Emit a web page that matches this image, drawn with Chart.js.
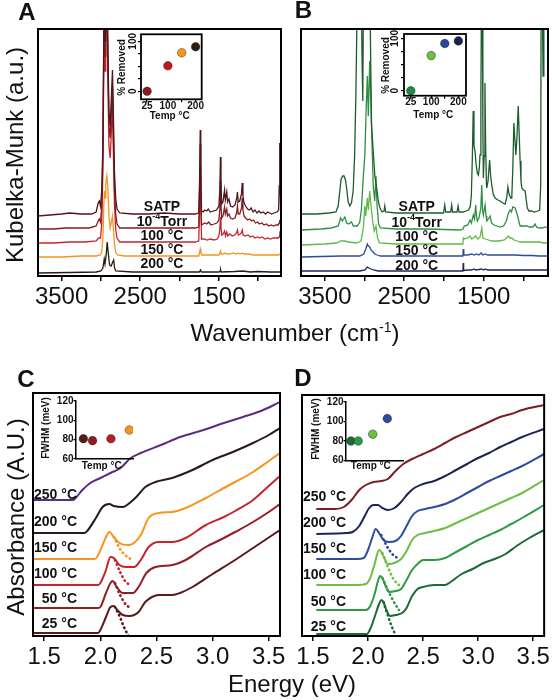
<!DOCTYPE html>
<html>
<head>
<meta charset="utf-8">
<script src="https://cdn.jsdelivr.net/npm/chart.js@4.4.0/dist/chart.umd.min.js"></script>
<style>
body{margin:0;background:#fff;}
#page{position:relative;width:552px;height:700px;overflow:hidden;background:#fff;font-family:'Liberation Sans',Arial,sans-serif;color:#111;}
canvas{position:absolute;}
.ttl{position:absolute;font-size:24px;line-height:24px;white-space:nowrap;}
.ttl sup{font-size:14px;line-height:0;position:relative;top:-9px;vertical-align:baseline;}
.rot{transform:translate(-50%,-50%) rotate(-90deg);}
</style>
</head>
<body>
<div id="page">
<canvas id="cA" width="290" height="320" style="left:0;top:0"></canvas>
<canvas id="cB" width="282" height="320" style="left:270px;top:0"></canvas>
<canvas id="cC" width="290" height="370" style="left:0;top:330px"></canvas>
<canvas id="cD" width="282" height="370" style="left:270px;top:330px"></canvas>
<canvas id="iA" width="110" height="110" style="left:100px;top:25px"></canvas>
<canvas id="iB" width="115" height="110" style="left:360px;top:25px"></canvas>
<canvas id="iC" width="110" height="85" style="left:30px;top:390px"></canvas>
<canvas id="iD" width="110" height="85" style="left:300px;top:390px"></canvas>
<div class="ttl rot" style="left:15px;top:155px">Kubelka-Munk (a.u.)</div>
<div class="ttl rot" style="left:16px;top:517px">Absorbance (A.U.)</div>
<div class="ttl" style="left:0;width:590px;text-align:center;top:321px">Wavenumber (cm<sup>-1</sup>)</div>
<div class="ttl" style="left:0;width:584px;text-align:center;top:672px">Energy (eV)</div>
</div>
<script>
// tick values / labels
const irTickVals = [1000, 1500, 2000, 2500, 3000, 3500];
const irTickText = ['', '1500', '', '2500', '', '3500'];
const eTickVals = [1.5, 2.0, 2.5, 3.0, 3.5];
const eTickText = ['1.5', '2.0', '2.5', '3.0', '3.5'];

// series labels
const irLabels = ['SATP', ['10', '-4', 'Torr'], '100 °C', '150 °C', '200 °C'];
const eLabels = ['250 °C', '200 °C', '150 °C', '100 °C', '50 °C', '25 °C'];

// panel A spectra  [wavenumber, KM + offset]
const aSatp = [[3800,60],[3650,61],[3500,62],[3400,63],[3250,62],[3120,62],[3060,64],[3035,73],[3020,75],[3005,70],[2990,85],[2975,130],[2963,250],[2955,300],[2947,235],[2938,270],[2925,300],[2912,235],[2898,165],[2882,150],[2864,185],[2853,206],[2842,165],[2828,105],[2812,78],[2795,67],[2760,63],[2600,62],[2400,62],[2200,63],[2000,62],[1800,62],[1756,63],[1744,100],[1737,146],[1730,100],[1720,65],[1700,64],[1680,66],[1655,65],[1635,67],[1610,64],[1570,65],[1530,66],[1500,70],[1488,85],[1480,119],[1473,88],[1464,72],[1448,74],[1428,86],[1418,76],[1400,84],[1390,74],[1372,77],[1352,70],[1325,69],[1295,71],[1272,78],[1264,84],[1254,74],[1235,75],[1212,82],[1203,93],[1194,80],[1180,73],[1160,70],[1135,67],[1110,66],[1090,68],[1065,64],[1040,66],[1015,63],[990,65],[965,63],[935,64],[905,62],[880,64],[855,63],[830,62],[800,63],[760,64],[740,66],[733,90],[726,133],[720,90],[714,66],[710,64]];
const aTorr = [[3800,47],[3600,47],[3450,48],[3300,48],[3150,48],[3060,50],[3035,55],[3020,57],[3005,54],[2990,70],[2975,120],[2963,235],[2955,300],[2947,220],[2938,255],[2925,300],[2912,220],[2898,150],[2882,138],[2864,170],[2853,190],[2842,145],[2828,88],[2812,62],[2795,52],[2760,48],[2500,48],[2200,48],[2000,48],[1800,48],[1756,49],[1744,90],[1737,132],[1730,90],[1720,51],[1700,52],[1680,53],[1655,52],[1630,54],[1600,51],[1560,52],[1525,53],[1500,56],[1488,66],[1480,95],[1473,70],[1464,58],[1448,60],[1428,69],[1418,62],[1400,67],[1390,60],[1372,62],[1352,58],[1325,57],[1295,58],[1272,64],[1264,70],[1254,62],[1235,62],[1212,68],[1203,78],[1194,66],[1180,60],[1160,58],[1135,56],[1110,57],[1085,55],[1060,56],[1035,53],[1010,54],[985,52],[955,53],[925,51],[895,52],[865,50],[835,51],[805,50],[775,51],[745,51],[733,53],[726,56],[720,53],[710,51]];
const a100 = [[3800,33],[3600,33],[3400,34],[3200,34],[3060,35],[3030,38],[3005,38],[2990,52],[2975,105],[2963,215],[2955,300],[2947,205],[2938,240],[2925,300],[2912,200],[2898,130],[2882,118],[2864,150],[2853,170],[2842,125],[2828,72],[2812,47],[2795,38],[2760,34],[2400,34],[2000,34],[1800,34],[1756,35],[1744,70],[1737,110],[1730,70],[1720,37],[1690,37],[1650,36],[1610,37],[1560,36],[1520,37],[1500,40],[1488,47],[1480,59],[1473,49],[1464,41],[1445,42],[1428,45],[1415,40],[1400,44],[1385,40],[1360,42],[1330,40],[1300,41],[1275,43],[1264,46],[1252,41],[1225,42],[1210,44],[1202,46],[1192,41],[1165,40],[1130,41],[1100,39],[1070,40],[1040,38],[1010,39],[980,38],[950,39],[915,37],[880,38],[845,37],[810,38],[775,38],[745,38],[733,39],[726,41],[720,39],[710,38]];
const a150 = [[3800,19],[3500,19],[3250,20],[3060,20],[3010,21],[2990,24],[2975,38],[2963,70],[2955,85],[2947,78],[2938,92],[2925,100],[2912,90],[2898,60],[2882,48],[2864,55],[2853,60],[2842,48],[2828,32],[2812,24],[2790,21],[2700,20],[2200,20],[1800,20],[1756,20],[1746,23],[1737,27],[1728,23],[1715,21],[1650,21],[1560,21],[1500,21],[1488,23],[1480,25],[1472,22],[1440,22],[1425,23],[1395,22],[1360,22],[1320,23],[1280,22],[1260,23],[1230,22],[1205,23],[1180,22],[1120,22],[1060,21],[1000,21],[920,21],[850,21],[780,21],[740,21],[726,22],[710,21]];
const a200 = [[3800,3],[3400,3.5],[3060,4],[3000,5],[2975,8],[2958,17],[2948,12],[2932,22],[2920,34],[2908,24],[2890,11],[2870,10],[2850,14],[2838,16],[2826,8],[2810,5],[2600,4],[2000,4],[1750,4],[1740,5],[1735,7],[1730,5],[1720,4],[1500,4],[1482,5],[1478,6],[1472,4],[1300,4.5],[1200,5],[1100,4],[1000,4.5],[850,4],[710,4]];

// panel B spectra
const bSatp = [[3800,62],[3600,62],[3450,63],[3360,64],[3332,70],[3310,86],[3295,97],[3275,100],[3258,100],[3240,96],[3226,88],[3205,74],[3185,70],[3165,73],[3143,85],[3125,120],[3109,181],[3095,260],[3085,300],[3045,300],[3030,210],[3022,175],[3012,300],[2935,300],[2920,200],[2912,151],[2891,125],[2870,100],[2848,88],[2825,74],[2806,68],[2780,64],[2755,65],[2745,70],[2735,64],[2600,63],[2300,63],[2100,63],[2005,63],[1990,71],[1978,64],[1915,64],[1903,71],[1892,64],[1835,64],[1822,70],[1810,64],[1760,64],[1720,65],[1690,66],[1668,70],[1655,81],[1642,120],[1632,165],[1622,130],[1609,125],[1596,112],[1580,103],[1567,101],[1555,108],[1546,121],[1535,180],[1526,300],[1518,300],[1510,150],[1504,98],[1494,120],[1484,193],[1475,130],[1465,92],[1461,88],[1445,95],[1425,116],[1412,100],[1398,91],[1380,82],[1356,78],[1320,76],[1293,75],[1260,73],[1230,72],[1210,78],[1195,89],[1180,82],[1160,78],[1146,78],[1132,110],[1120,153],[1110,140],[1094,121],[1080,140],[1065,170],[1052,140],[1041,115],[1030,95],[1020,88],[1000,86],[978,85],[962,75],[950,68],[930,65],[900,65],[860,64],[820,65],[795,66],[782,90],[776,300],[765,300],[752,200],[742,300],[690,300]];
const bTorr = [[3800,46],[3550,47],[3420,48],[3330,50],[3302,58],[3280,55],[3248,59],[3225,53],[3200,52],[3164,54],[3140,50],[3090,50],[3060,54],[3040,66],[3015,100],[2996,121],[2982,160],[2965,200],[2952,160],[2935,215],[2922,180],[2905,130],[2890,90],[2872,75],[2856,100],[2842,70],[2822,52],[2800,48],[2600,47],[2200,47],[1800,46],[1760,47],[1745,50],[1700,51],[1672,56],[1655,53],[1630,61],[1615,57],[1600,71],[1590,60],[1580,55],[1560,58],[1536,68],[1524,91],[1514,66],[1504,61],[1482,71],[1470,60],[1461,55],[1440,57],[1419,60],[1400,53],[1370,51],[1330,50],[1290,49],[1250,50],[1215,55],[1188,63],[1167,66],[1150,64],[1133,69],[1104,68],[1075,61],[1055,54],[1041,50],[1000,50],[960,50],[920,49],[880,49],[852,52],[835,49],[800,48],[760,48],[730,49],[690,48]];
const b100 = [[3800,31],[3500,32],[3350,33],[3300,35],[3250,35],[3200,34],[3100,33],[3045,35],[3015,48],[2996,70],[2985,60],[2965,78],[2952,66],[2935,85],[2918,70],[2898,55],[2878,45],[2856,50],[2836,38],[2812,33],[2600,32],[2200,32],[1800,32],[1762,32],[1756,38],[1745,37],[1700,38],[1672,40],[1650,37],[1630,38],[1600,40],[1575,37],[1545,39],[1524,48],[1510,38],[1480,37],[1440,36],[1400,35],[1350,35],[1300,35],[1240,36],[1200,39],[1188,40],[1170,38],[1146,38],[1120,36],[1080,35],[1040,34],[1000,34],[950,34],[900,34],[850,34],[800,34],[750,33],[690,33]];
const b150 = [[3800,19],[3300,20],[3060,20],[3010,22],[2985,27],[2965,32],[2952,30],[2935,29],[2918,26],[2893,24],[2872,22],[2840,21],[2800,20],[2200,20],[1800,20],[1762,20],[1757,27],[1750,21],[1700,21],[1650,22],[1620,21],[1590,22],[1560,21],[1530,23],[1510,21],[1480,22],[1450,21],[1400,21],[1300,21],[1200,21],[1100,21],[1000,20.5],[900,20.5],[800,20],[690,20]];
const b200 = [[3800,5],[3060,5],[2995,6],[2965,9],[2945,8],[2918,7],[2885,6],[2830,5],[2200,5],[1800,5],[1762,5],[1757,13],[1752,5.5],[1700,6],[1650,6],[1620,7],[1600,6],[1560,6.5],[1530,7],[1500,6],[1480,7],[1450,6],[1300,6],[1200,6],[1100,6],[1000,6],[800,6],[700,6],[694,9],[690,6]];

// panel C absorbance  [eV, A + offset]
const c250 = [[1.4,136],[1.76,136],[1.78,138],[1.84,146],[1.91,153],[2.0,158],[2.09,163],[2.18,168],[2.27,178],[2.36,183],[2.54,191],[2.71,199],[2.92,206],[3.1,213],[3.27,219],[3.45,226],[3.6,234]];
const c200 = [[1.4,103],[1.86,103],[1.89,106],[1.96,118],[2.02,129],[2.08,132],[2.12,130],[2.2,129],[2.26,133],[2.32,139],[2.4,149],[2.49,154],[2.64,158],[2.82,166],[3.0,176],[3.18,184],[3.36,193],[3.5,201],[3.6,208]];
const c150 = [[1.4,77],[1.95,77],[1.97,79],[2.02,91],[2.05,99],[2.08,104],[2.12,99],[2.17,93],[2.25,91],[2.3,93],[2.36,101],[2.43,118],[2.52,123],[2.64,124],[2.76,128],[2.94,138],[3.1,148],[3.2,154],[3.36,164],[3.5,175],[3.6,183]];
const c100 = [[1.4,51],[1.98,51],[2.0,53],[2.05,66],[2.09,79],[2.12,78],[2.17,71],[2.23,69],[2.3,69],[2.36,76],[2.43,89],[2.52,94],[2.64,94],[2.76,98],[2.94,111],[3.1,119],[3.2,125],[3.36,136],[3.5,150],[3.6,160]];
const c50 = [[1.4,28],[1.98,28],[2.0,29],[2.05,43],[2.09,53],[2.11,55],[2.14,50],[2.2,43],[2.29,43],[2.34,49],[2.41,63],[2.49,69],[2.64,71],[2.76,76],[2.94,89],[3.1,98],[3.2,104],[3.36,114],[3.5,124],[3.6,132]];
const c25 = [[1.4,3],[1.6,3],[1.8,3],[1.98,3],[2.0,6],[2.05,19],[2.09,29],[2.12,30],[2.15,26],[2.2,21],[2.26,20],[2.3,21],[2.34,24],[2.4,34],[2.46,39],[2.52,41],[2.64,41],[2.71,43],[2.82,49],[3.0,62],[3.2,76],[3.4,91],[3.6,106]];
const c150fit = [[2.12,99],[2.17,88],[2.22,81],[2.27,77]];
const c100fit = [[2.13,76],[2.18,63],[2.22,55],[2.26,51]];
const c50fit = [[2.13,53],[2.18,40],[2.23,31],[2.27,28]];
const c25fit = [[2.13,29],[2.17,20],[2.21,9],[2.25,0]];

// panel D absorbance
const d250 = [[1.53,127],[1.7,127],[1.78,129],[1.85,136],[1.92,146],[1.98,151],[2.05,154],[2.12,155],[2.18,157],[2.25,165],[2.32,172],[2.4,177],[2.5,182],[2.6,187],[2.7,193],[2.8,199],[2.9,204],[3.0,209],[3.1,214],[3.2,219],[3.3,222],[3.4,226],[3.6,231]];
const d200 = [[1.53,102],[1.8,103],[1.86,104],[1.92,110],[1.97,120],[2.01,128],[2.05,131],[2.09,131],[2.13,128],[2.18,126],[2.24,128],[2.3,134],[2.36,142],[2.42,148],[2.5,152],[2.6,155],[2.7,160],[2.8,166],[2.9,172],[3.0,178],[3.1,183],[3.2,189],[3.3,194],[3.4,199],[3.6,207]];
const d150 = [[1.53,77],[1.9,77],[1.96,78],[2.0,86],[2.04,99],[2.07,107],[2.1,103],[2.14,96],[2.19,94],[2.25,95],[2.3,100],[2.35,110],[2.4,120],[2.45,125],[2.52,127],[2.6,129],[2.7,132],[2.8,137],[2.9,143],[3.0,149],[3.1,155],[3.2,160],[3.3,165],[3.4,170],[3.6,182]];
const d100 = [[1.53,51],[1.9,51],[1.98,52],[2.02,58],[2.06,72],[2.1,86],[2.14,80],[2.18,72],[2.24,73],[2.3,77],[2.35,85],[2.4,96],[2.45,101],[2.52,103],[2.6,105],[2.7,108],[2.8,113],[2.9,118],[3.0,123],[3.1,128],[3.2,133],[3.3,138],[3.4,143],[3.6,156]];
const d50 = [[1.53,26],[1.7,26],[1.9,26],[1.98,26],[2.02,30],[2.06,42],[2.09,55],[2.11,60],[2.13,58],[2.16,50],[2.19,44],[2.25,45],[2.3,47],[2.35,56],[2.4,66],[2.45,72],[2.5,76],[2.6,76],[2.7,78],[2.8,84],[2.9,90],[3.0,96],[3.1,101],[3.2,106],[3.3,112],[3.4,118],[3.6,131]];
const d25 = [[1.53,2],[1.7,2],[1.9,2],[1.99,2],[2.02,7],[2.06,19],[2.1,32],[2.12,36],[2.14,34],[2.17,25],[2.2,20],[2.25,21],[2.31,23],[2.35,28],[2.4,40],[2.45,47],[2.5,49],[2.6,51],[2.7,51],[2.75,54],[2.85,62],[2.95,67],[3.05,73],[3.15,77],[3.25,82],[3.35,90],[3.45,97],[3.6,106]];
const d150fit = [[2.12,101],[2.17,90],[2.22,82],[2.28,77]];
const d100fit = [[2.13,83],[2.18,69],[2.23,57],[2.28,51]];
const d50fit = [[2.13,58],[2.18,46],[2.23,35],[2.28,26]];
const d25fit = [[2.14,34],[2.17,24],[2.21,11],[2.25,1]];

// insets
const irTemp = [25, 100, 150, 200];
const aRemoved = [0, 51, 77, 89];
const bRemoved = [0, 67, 90, 95];
const insetTempTicks = [25, 100, 150, 200];
const insetTempText = ['25', '100', '', '200'];
const fwhmTemp = [25, 50, 100, 150];
const cFwhm = [81, 79, 81, 90];
const dFwhm = [80, 80, 87, 103];

const FF = "'Liberation Sans', Arial, sans-serif";
Chart.defaults.font.family = FF;
Chart.defaults.color = '#111';

function fixTicks(vals) { return s => { s.ticks = vals.map(v => ({value: v})); }; }
function tickText(vals, text) { return v => { const i = vals.indexOf(v); return i < 0 ? '' : text[i]; }; }

const frame = {
  id: 'frame',
  afterDatasetsDraw(chart, args, opts) {
    const a = chart.chartArea, c = chart.ctx;
    c.save();
    c.strokeStyle = '#000';
    c.lineWidth = opts.w || 2;
    c.strokeRect(a.left, a.top, a.right - a.left, a.bottom - a.top);
    c.restore();
  }
};

function notes(items) {
  return {
    id: 'notes',
    afterDraw(chart) {
      const c = chart.ctx;
      items.forEach(n => {
        c.save();
        c.fillStyle = '#111';
        c.textBaseline = 'middle';
        c.translate(n.x, n.y);
        if (n.rot) c.rotate(-Math.PI / 2);
        if (Array.isArray(n.t)) {
          const big = n.f, small = n.f.replace('14px', '9px');
          c.font = big; const w0 = c.measureText(n.t[0]).width, w2 = c.measureText(n.t[2]).width;
          c.font = small; const w1 = c.measureText(n.t[1]).width;
          let x = -(w0 + w1 + w2) / 2;
          c.textAlign = 'left';
          c.font = big; c.fillText(n.t[0], x, 0); x += w0;
          c.font = small; c.fillText(n.t[1], x, -5); x += w1;
          c.font = big; c.fillText(n.t[2], x, 0);
        } else {
          c.font = n.f;
          c.textAlign = n.a || 'center';
          c.fillText(n.t, 0, 0);
        }
        c.restore();
      });
    }
  };
}

// rotated y tick labels for the % Removed insets
function rotTicks(vals, x) {
  return {
    id: 'rotTicks',
    afterDraw(chart) {
      const c = chart.ctx, y = chart.scales.y;
      vals.forEach(v => {
        c.save();
        c.translate(x, y.getPixelForValue(v));
        c.rotate(-Math.PI / 2);
        c.font = 'bold 10px ' + FF;
        c.fillStyle = '#111';
        c.textAlign = 'center';
        c.textBaseline = 'middle';
        c.fillText(String(v), 0, 0);
        c.restore();
      });
    }
  };
}

function line(data, color, w, smooth, dash) {
  return {
    data: data, borderColor: color, borderWidth: w, pointRadius: 0, fill: false,
    cubicInterpolationMode: smooth ? 'monotone' : 'default', tension: 0,
    borderDash: dash ? [0.5, 4] : [], borderCapStyle: dash ? 'round' : 'butt'
  };
}

function mainChart(id, o) {
  return new Chart(document.getElementById(id), {
    type: 'line',
    data: {datasets: o.sets},
    options: {
      responsive: false, animation: false, events: [], devicePixelRatio: 1,
      layout: {padding: o.pad},
      plugins: {legend: {display: false}, tooltip: {enabled: false}},
      scales: {
        x: {
          type: 'linear', min: o.xmin, max: o.xmax, reverse: o.rev,
          afterBuildTicks: fixTicks(o.ticks), afterFit: s => { s.height = o.xh; },
          grid: {drawOnChartArea: false, tickLength: 5, color: '#000', lineWidth: 1.5},
          border: {display: false},
          ticks: {font: {size: 24}, color: '#111', padding: 2, maxRotation: 0, autoSkip: false,
                  callback: tickText(o.ticks, o.tickText)}
        },
        y: {display: false, min: 0, max: o.ymax}
      }
    },
    plugins: [frame, notes(o.notes)]
  });
}

const fB14 = 'bold 14px ' + FF, fB24 = 'bold 24px ' + FF, fB10 = 'bold 10px ' + FF;

// A
const yA = [206.7, 221.7, 236, 250, 264.3];
mainChart('cA', {
  sets: [line(aSatp, '#521519', 1.3), line(aTorr, '#861b22', 1.3), line(a100, '#c6252d', 1.3),
         line(a150, '#f7941d', 1.3), line(a200, '#2b1b12', 1.3)],
  pad: {left: 38, top: 29, right: 9, bottom: 0}, xh: 44, xmin: 710, xmax: 3800, rev: true, ymax: 247,
  ticks: irTickVals, tickText: irTickText,
  notes: [{t: 'A', x: 27, y: 13.5, f: fB24}].concat(irLabels.map((t, i) => ({t: t, x: 162, y: yA[i], f: fB14})))
});

// B
const yB = [207.3, 222.7, 237.3, 250.7, 265.7];
mainChart('cB', {
  sets: [line(bSatp, '#1d5c2e', 1.3), line(bTorr, '#2f8f43', 1.3), line(b100, '#62b84a', 1.3),
         line(b150, '#2e4b9b', 1.3), line(b200, '#1c2453', 1.3)],
  pad: {left: 31, top: 29, right: 4, bottom: 0}, xh: 44, xmin: 690, xmax: 3800, rev: true, ymax: 247,
  ticks: irTickVals, tickText: irTickText,
  notes: [{t: 'B', x: 33.5, y: 11.5, f: fB24}].concat(irLabels.map((t, i) => ({t: t, x: 146.7, y: yB[i], f: fB14})))
});

// C
const yC = [165, 191.7, 218.3, 244, 269.3, 294];
mainChart('cC', {
  sets: [line(c250, '#5c2c80', 2, true), line(c200, '#2a1a14', 2, true), line(c150, '#f7941d', 2, true),
         line(c100, '#c1272d', 2, true), line(c50, '#931d24', 2, true), line(c25, '#5a1a1c', 2, true),
         line(c150fit, '#f7941d', 2.6, true, true), line(c100fit, '#c1272d', 2.6, true, true),
         line(c50fit, '#931d24', 2.6, true, true), line(c25fit, '#5a1a1c', 2.6, true, true)],
  pad: {left: 33, top: 63, right: 10, bottom: 0}, xh: 64, xmin: 1.4, xmax: 3.6, rev: false, ymax: 243,
  ticks: eTickVals, tickText: eTickText,
  notes: [{t: 'C', x: 26, y: 50, f: fB24}].concat(eLabels.map((t, i) => ({t: t, x: 77, y: yC[i], f: fB14, a: 'right'})))
});

// D
const yD = [166.7, 192.7, 219, 245, 271.7, 296.7];
mainChart('cD', {
  sets: [line(d250, '#7b1f24', 2, true), line(d200, '#1c2452', 2, true), line(d150, '#2d4c9e', 2, true),
         line(d100, '#6cbf45', 2, true), line(d50, '#2e9a42', 2, true), line(d25, '#1b6a35', 2, true),
         line(d150fit, '#2d4c9e', 2.6, true, true), line(d100fit, '#6cbf45', 2.6, true, true),
         line(d50fit, '#2e9a42', 2.6, true, true), line(d25fit, '#1b6a35', 2.6, true, true)],
  pad: {left: 32, top: 65, right: 4, bottom: 0}, xh: 64, xmin: 1.4, xmax: 3.6, rev: false, ymax: 241,
  ticks: eTickVals, tickText: eTickText,
  notes: [{t: 'D', x: 33, y: 49, f: fB24}].concat(eLabels.map((t, i) => ({t: t, x: 76, y: yD[i], f: fB14, a: 'right'})))
});

function dots(xs, ys, colors) {
  return {
    data: xs.map((x, i) => ({x: x, y: ys[i]})),
    pointBackgroundColor: colors, pointBorderColor: 'rgba(0,0,0,0.45)', pointBorderWidth: 0.8,
    pointRadius: 4.3, showLine: false
  };
}

function removedInset(id, o) {
  return new Chart(document.getElementById(id), {
    type: 'scatter',
    data: {datasets: [dots(irTemp, o.vals, o.colors)]},
    options: {
      responsive: false, animation: false, events: [], devicePixelRatio: 1,
      layout: {padding: {left: 0, top: o.top, right: o.right, bottom: 0}},
      plugins: {legend: {display: false}, tooltip: {enabled: false}, frame: {w: 1.8}},
      scales: {
        x: {min: o.xmin, max: o.xmax, afterBuildTicks: fixTicks(insetTempTicks), afterFit: s => { s.height = o.xh; },
            grid: {drawOnChartArea: false, tickLength: 3, color: '#000', lineWidth: 1.2}, border: {display: false},
            ticks: {font: {size: 10, weight: 'bold'}, color: '#111', padding: -2, maxRotation: 0, autoSkip: false,
                    callback: tickText(insetTempTicks, insetTempText)}},
        y: {min: o.ymin, max: o.ymax, afterBuildTicks: fixTicks([0, 25, 50, 75, 100]), afterFit: s => { s.width = o.left; },
            grid: {drawOnChartArea: false, tickLength: 3, color: '#000', lineWidth: 1.2}, border: {display: false},
            ticks: {display: false}}
      }
    },
    plugins: [frame, rotTicks([0, 100], o.tx), notes(o.notes)]
  });
}

removedInset('iA', {
  vals: aRemoved, colors: ['#8c1a1f', '#c4161c', '#f7941d', '#2e1d14'],
  left: 41, top: 9.3, right: 8.3, xh: 35.7, xmin: 3, xmax: 222, ymin: -16, ymax: 114, tx: 33,
  notes: [{t: '% Removed', x: 22.7, y: 42.5, f: fB10, rot: true}, {t: 'Temp °C', x: 69.7, y: 91.7, f: fB10}]
});
removedInset('iB', {
  vals: bRemoved, colors: ['#1f8b3f', '#6cbf45', '#2b4596', '#1a2150'],
  left: 44, top: 9, right: 9, xh: 39.3, xmin: 0, xmax: 228, ymin: -9.5, ymax: 108.2, tx: 35,
  notes: [{t: '% Removed', x: 26.7, y: 40.5, f: fB10, rot: true}, {t: 'Temp °C', x: 73.3, y: 90, f: fB10}]
});

function fwhmInset(id, o) {
  return new Chart(document.getElementById(id), {
    type: 'scatter',
    data: {datasets: [dots(fwhmTemp, o.vals, o.colors)]},
    options: {
      responsive: false, animation: false, events: [], devicePixelRatio: 1,
      layout: {padding: {left: 0, top: o.top, right: 7, bottom: 0}},
      plugins: {legend: {display: false}, tooltip: {enabled: false}},
      scales: {
        x: {min: o.xmin, max: o.xmax, afterFit: s => { s.height = o.xh; },
            grid: {display: false}, ticks: {display: false}, border: {display: true, color: '#000', width: 1.5}},
        y: {min: 60, max: 120, afterBuildTicks: fixTicks([60, 80, 100, 120]), afterFit: s => { s.width = 46; },
            grid: {drawOnChartArea: false, tickLength: 2.5, color: '#000', lineWidth: 1.2},
            border: {display: true, color: '#000', width: 1.5},
            ticks: {font: {size: 10, weight: 'bold'}, color: '#111', padding: 0}}
      }
    },
    plugins: [notes(o.notes)]
  });
}

fwhmInset('iC', {
  vals: cFwhm, colors: ['#5a1a1c', '#8e1b22', '#b5202a', '#f7941d'], top: 11, xh: 16, xmin: 5, xmax: 160,
  notes: [{t: 'FWHM (meV)', x: 16.7, y: 38, f: fB10, rot: true}, {t: 'Temp °C', x: 71.7, y: 76, f: fB10}]
});
fwhmInset('iD', {
  vals: dFwhm, colors: ['#1b6a35', '#2e9a42', '#6cbf45', '#2d4c9e'], top: 12, xh: 14.5, xmin: 8, xmax: 204,
  notes: [{t: 'FWHM (meV)', x: 16.7, y: 39, f: fB10, rot: true}, {t: 'Temp °C', x: 70.8, y: 76.7, f: fB10}]
});
</script>
</body>
</html>
